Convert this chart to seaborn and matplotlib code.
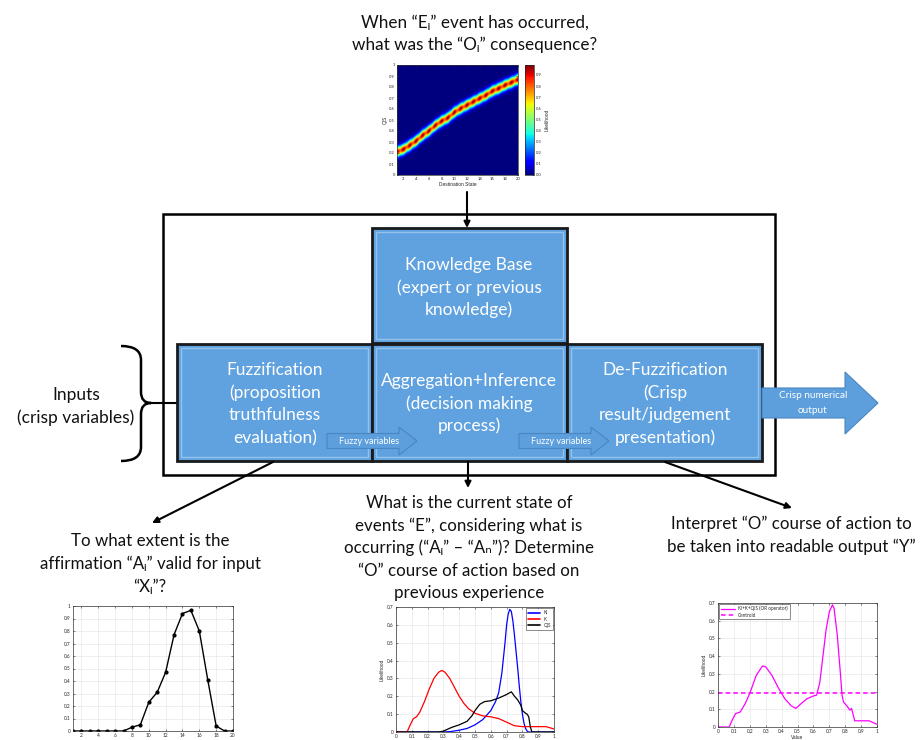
import numpy as np
import pandas as pd
import matplotlib
matplotlib.use("Agg")
import matplotlib.pyplot as plt
import seaborn as sns
from matplotlib.patches import Rectangle, FancyArrow, PathPatch
from matplotlib.path import Path

W, H = 924, 740

# --- data ---
# heatmap: centre of the likelihood ridge (QIS) for each destination state
dest_states = list(range(1, 21))
qis_ridge = [0.21, 0.233, 0.27, 0.31, 0.36, 0.40, 0.45, 0.49, 0.52, 0.57,
             0.605, 0.636, 0.667, 0.697, 0.727, 0.764, 0.788, 0.818, 0.842, 0.87]

# fuzzification membership
fuzz_x = list(range(1, 21))
fuzz_y = [0, 0, 0, 0, 0, 0, 0, 0.03, 0.05, 0.23, 0.31, 0.47, 0.77, 0.94,
          0.965, 0.80, 0.41, 0.04, 0, 0]

# aggregation curves
ki_x = [0, 0.3, 0.35, 0.4, 0.45, 0.5, 0.55, 0.6, 0.63, 0.65, 0.67, 0.69, 0.7,
        0.71, 0.72, 0.73, 0.74, 0.75, 0.76, 0.77, 0.78, 0.79, 0.8, 0.81, 0.82,
        0.83, 0.84, 1.0]
ki_y = [0, 0, 0.003, 0.01, 0.02, 0.04, 0.07, 0.12, 0.17, 0.22, 0.33, 0.5, 0.6,
        0.66, 0.687, 0.675, 0.62, 0.54, 0.45, 0.36, 0.26, 0.17, 0.1, 0.05, 0.02,
        0.005, 0, 0]
k_x = [0, 0.07, 0.09, 0.11, 0.13, 0.15, 0.18, 0.21, 0.24, 0.27, 0.29, 0.31,
       0.34, 0.37, 0.40, 0.43, 0.46, 0.50, 0.55, 0.60, 0.65, 0.70, 0.75, 0.80,
       0.90, 0.95, 1.0]
k_y = [0, 0, 0.04, 0.075, 0.085, 0.11, 0.17, 0.24, 0.30, 0.335, 0.345, 0.335,
       0.30, 0.25, 0.20, 0.16, 0.13, 0.105, 0.09, 0.085, 0.075, 0.055, 0.035,
       0.03, 0.03, 0.03, 0.017]
qis_x = [0, 0.27, 0.3, 0.35, 0.4, 0.45, 0.48, 0.5, 0.53, 0.56, 0.6, 0.65, 0.7,
         0.73, 0.75, 0.77, 0.79, 0.8, 0.82, 0.83, 0.84, 0.85, 0.86, 1.0]
qis_y = [0, 0, 0.005, 0.025, 0.04, 0.06, 0.09, 0.12, 0.155, 0.17, 0.175, 0.19,
         0.21, 0.225, 0.20, 0.18, 0.15, 0.12, 0.105, 0.10, 0.085, 0.03, 0, 0]

# defuzzification: OR of the three, and centroid
or_x = [0, 0.07, 0.09, 0.11, 0.14, 0.17, 0.2, 0.24, 0.28, 0.3, 0.34, 0.38,
        0.42, 0.46, 0.49, 0.52, 0.56, 0.6, 0.62, 0.64, 0.66, 0.68, 0.7, 0.72,
        0.73, 0.75, 0.77, 0.78, 0.79, 0.81, 0.83, 0.84, 0.85, 0.86, 0.95, 1.0]
or_y = [0, 0, 0.04, 0.075, 0.085, 0.13, 0.19, 0.29, 0.345, 0.34, 0.29, 0.22,
        0.16, 0.12, 0.105, 0.13, 0.16, 0.175, 0.18, 0.25, 0.4, 0.55, 0.65, 0.69,
        0.67, 0.52, 0.3, 0.18, 0.14, 0.12, 0.095, 0.105, 0.07, 0.035, 0.035, 0.015]
centroid = 0.19

sns.set_style("ticks")
plt.rcParams['font.family'] = ['Lato', 'DejaVu Sans']

fig = plt.figure(figsize=(9.24, 7.4), dpi=100)
ax = fig.add_axes([0, 0, 1, 1])
ax.set_xlim(0, W)
ax.set_ylim(H, 0)
ax.axis('off')


def frac(x0, y0, x1, y1):
    return [x0 / W, 1 - y1 / H, (x1 - x0) / W, (y1 - y0) / H]


def lines(x, y0, dy, txt, size=12, color='#111111'):
    for i, t in enumerate(txt):
        ax.text(x, y0 + i * dy, t, ha='center', va='center', fontsize=size,
                color=color, family=['Lato', 'DejaVu Sans'], zorder=6)


# --- diagram ---
ax.add_patch(Rectangle((163, 214), 612, 261, fill=False, ec='black', lw=1.8))

box_fc = '#5fa2df'
for (x0, y0, x1, y1) in [(372, 228, 567, 343), (177, 344, 372, 461),
                         (372, 344, 567, 461), (567, 344, 762, 461)]:
    ax.add_patch(Rectangle((x0, y0), x1 - x0, y1 - y0, fc=box_fc, ec='#1a1a1a', lw=2, zorder=3))
    ax.add_patch(Rectangle((x0 + 4, y0 + 4), x1 - x0 - 8, y1 - y0 - 8, fill=False,
                           ec='#93c2ec', lw=1, zorder=3))

lines(469, 265, 22.5, ["Knowledge Base", "(expert or previous", "knowledge)"], 12.5, 'white')
lines(275, 370, 22.7, ["Fuzzification", "(proposition", "truthfulness", "evaluation)"], 12.5, 'white')
lines(469, 381, 22.5, ["Aggregation+Inference", "(decision making", "process)"], 12.5, 'white')
lines(665, 370, 22.7, ["De-Fuzzification", "(Crisp", "result/judgement", "presentation)"], 12.5, 'white')

# small block arrows
for xs, xt in [(327, 417), (519, 609)]:
    ax.add_patch(FancyArrow(xs, 441, xt - xs, 0, width=15, head_width=28, head_length=18,
                            length_includes_head=True, fc='#5c9fdc', ec='#4a86c0', lw=0.8, zorder=4))
    ax.text(xs + 42, 441, "Fuzzy variables", ha='center', va='center', fontsize=6.5,
            color='white', zorder=5)

ax.add_patch(FancyArrow(762, 403, 116, 0, width=30, head_width=62, head_length=33,
                        length_includes_head=True, fc='#5c9fdc', ec='#4a86c0', lw=0.8, zorder=4))
lines(813, 395, 15.5, ["Crisp numerical", "output"], 7.2, 'white')

# brace + input line
verts = [(121, 346), (141, 346), (141, 360), (141, 392), (141, 403), (151, 403),
         (141, 403), (141, 414), (141, 447), (141, 461), (121, 461)]
codes = [Path.MOVETO, Path.CURVE3, Path.CURVE3, Path.LINETO, Path.CURVE3, Path.CURVE3,
         Path.CURVE3, Path.CURVE3, Path.LINETO, Path.CURVE3, Path.CURVE3]
ax.add_patch(PathPatch(Path(verts, codes), fill=False, ec='black', lw=1.8))
ax.plot([150, 177], [403, 403], color='black', lw=1.5)
lines(76, 395, 23, ["Inputs", "(crisp variables)"], 12.5)

# connecting arrows
arr = dict(arrowstyle='-|>', color='black', lw=1.5, mutation_scale=9, shrinkA=0, shrinkB=0)
ax.annotate('', xy=(467, 228), xytext=(467, 192), arrowprops=arr)
ax.annotate('', xy=(152, 523), xytext=(273, 462), arrowprops=arr)
ax.annotate('', xy=(468, 488), xytext=(468, 462), arrowprops=arr)
ax.annotate('', xy=(792, 508), xytext=(665, 462), arrowprops=arr)

# question texts
lines(475, 23, 21.5, ["When \u201cE\u1d62\u201d event has occurred,",
                      "what was the \u201cO\u1d62\u201d consequence?"], 12.3)
lines(150, 541, 23, ["To what extent is the",
                     "affirmation \u201cA\u1d62\u201d valid for input",
                     "\u201cX\u1d62\u201d?"], 12.2)
lines(469, 503, 22.5, ["What is the current state of",
                       "events \u201cE\u201d, considering what is",
                       "occurring (\u201cA\u1d62\u201d \u2013 \u201cA\u2099\u201d)? Determine",
                       "\u201cO\u201d course of action based on",
                       "previous experience"], 12.2)
lines(791, 524, 23, ["Interpret \u201cO\u201d course of action to",
                     "be taken into readable output \u201cY\u201d"], 12.2)


# --- small charts ---
def style_small(a, xticks, yticks, fs=3.4):
    a.set_xticks(xticks)
    a.set_xticklabels([f"{v:g}" for v in xticks])
    a.set_yticks(yticks)
    a.set_yticklabels([f"{v:g}" for v in yticks])
    a.tick_params(labelsize=fs, length=1.5, width=0.4, direction='in', pad=1.5,
                  top=True, right=True)
    a.grid(True, color='#e3e3e3', lw=0.4)
    for s in a.spines.values():
        s.set_linewidth(0.5)
        s.set_color('#333333')
        s.set_visible(True)
    a.set_axisbelow(True)


# heatmap of knowledge base: ridge along the read centres, brighter at each state
hx = np.linspace(1, 20, 380)
hy = np.linspace(0, 1, 400)
HX, HY = np.meshgrid(hx, hy)
ridge = np.interp(HX, dest_states, qis_ridge)
spots = np.zeros_like(HX)
for s in dest_states:
    spots = np.maximum(spots, np.exp(-(HX - s) ** 2 / (2 * 0.28 ** 2)))
Z = np.exp(-(HY - ridge) ** 2 / (2 * 0.031 ** 2)) * (0.74 + 0.24 * spots)
axh = fig.add_axes(frac(397, 65, 518, 175))
im = axh.imshow(Z, origin='lower', extent=[1, 20, 0, 1], aspect='auto', cmap='jet',
                vmin=0, vmax=0.99, interpolation='bilinear')
style_small(axh, list(range(2, 21, 2)), [round(v * 0.1, 1) for v in range(11)], 3)
axh.grid(False)
axh.set_xlabel("Destination State", fontsize=3.5, labelpad=1, family='Liberation Sans')
axh.set_ylabel("QIS", fontsize=3.5, labelpad=1, family='Liberation Sans')
cax = fig.add_axes(frac(525, 65, 534, 175))
cb = fig.colorbar(im, cax=cax, ticks=[round(v * 0.1, 1) for v in range(10)])
cb.ax.tick_params(labelsize=3, length=1.2, width=0.4, direction='in', pad=1.5)
cb.outline.set_linewidth(0.5)
cb.set_label("Likelihood", fontsize=3.5, labelpad=2, family='Liberation Sans')

# fuzzification membership
axf = fig.add_axes(frac(73, 606, 233, 731))
sns.lineplot(x=fuzz_x, y=fuzz_y, ax=axf, color='black', lw=1.0, marker='o',
             markersize=3, markeredgewidth=0)
axf.set_xlim(1, 20)
axf.set_ylim(0, 1)
style_small(axf, list(range(2, 21, 2)), [round(v * 0.1, 1) for v in range(11)])

# aggregation
axm = fig.add_axes(frac(396, 607, 554, 732))
agg = pd.concat([pd.DataFrame({'x': ki_x, 'y': ki_y, 'set': 'KI'}),
                 pd.DataFrame({'x': k_x, 'y': k_y, 'set': 'K'}),
                 pd.DataFrame({'x': qis_x, 'y': qis_y, 'set': 'QIS'})])
sns.lineplot(data=agg, x='x', y='y', hue='set', ax=axm, lw=0.9,
             palette={'KI': 'blue', 'K': 'red', 'QIS': 'black'})
axm.set_xlim(0, 1)
axm.set_ylim(0, 0.7)
style_small(axm, [round(v * 0.1, 1) for v in range(11)], [round(v * 0.1, 1) for v in range(8)])
axm.set_xlabel("")
axm.set_ylabel("Likelihood", fontsize=3.5, labelpad=2, family='Liberation Sans')
leg = axm.legend(loc='upper right', fontsize=3.3, frameon=True, fancybox=False,
                 handlelength=2.5, borderpad=0.4, labelspacing=0.3, borderaxespad=0.3)
leg.get_frame().set_edgecolor('black')
leg.get_frame().set_linewidth(0.4)
for h in leg.get_lines():
    h.set_linewidth(1.2)

# defuzzification
axr = fig.add_axes(frac(718, 603, 877, 727))
sns.lineplot(x=or_x, y=or_y, ax=axr, color='#ff00ff', lw=0.9, label='KI+K+QIS (OR operator)')
axr.axhline(centroid, color='#ff00ff', lw=1.1, ls=(0, (3, 2)), label='Centroid')
axr.set_xlim(0, 1)
axr.set_ylim(0, 0.7)
style_small(axr, [round(v * 0.1, 1) for v in range(11)], [round(v * 0.1, 1) for v in range(8)])
axr.set_xlabel("Value", fontsize=3.5, labelpad=1, family='Liberation Sans')
axr.set_ylabel("Likelihood", fontsize=3.5, labelpad=2, family='Liberation Sans')
leg = axr.legend(loc='upper left', fontsize=3.3, frameon=True, fancybox=False,
                 handlelength=3, borderpad=0.4, labelspacing=0.3, borderaxespad=0.2)
leg.get_frame().set_edgecolor('black')
leg.get_frame().set_linewidth(0.4)

fig.savefig("out.png", dpi=100)
